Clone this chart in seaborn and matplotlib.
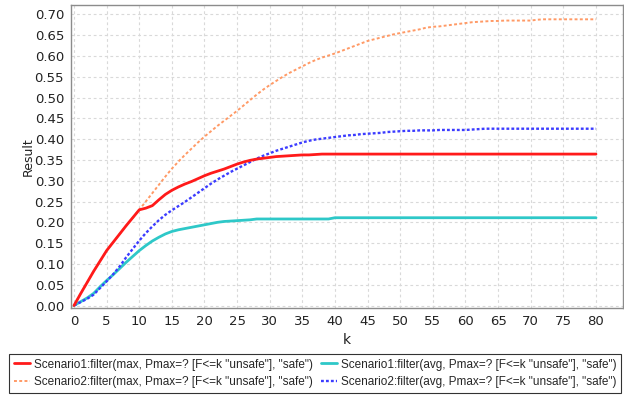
import matplotlib
matplotlib.use("Agg")
import matplotlib.pyplot as plt
import numpy as np
import pandas as pd
import seaborn as sns

# k = 0..80
k_values = list(range(81))

s1_max = [
    0.000, 0.028, 0.055, 0.082, 0.107, 0.132, 0.152, 0.172, 0.192, 0.211, 0.230,
    0.234, 0.240, 0.254, 0.267, 0.277, 0.285, 0.292, 0.298, 0.305, 0.312,
    0.318, 0.323, 0.328, 0.334, 0.340, 0.345, 0.349, 0.352, 0.354, 0.356,
    0.358, 0.359, 0.360, 0.361, 0.362, 0.362, 0.363, 0.364, 0.364, 0.364,
    0.364, 0.364, 0.364, 0.364, 0.364, 0.364, 0.364, 0.364, 0.364, 0.364,
    0.364, 0.364, 0.364, 0.364, 0.364, 0.364, 0.364, 0.364, 0.364, 0.364,
    0.364, 0.364, 0.364, 0.364, 0.364, 0.364, 0.364, 0.364, 0.364, 0.364,
    0.364, 0.364, 0.364, 0.364, 0.364, 0.364, 0.364, 0.364, 0.364, 0.364,
]

s1_avg = [
    0.000, 0.009, 0.018, 0.029, 0.045, 0.060, 0.074, 0.089, 0.104, 0.118, 0.132,
    0.144, 0.155, 0.164, 0.172, 0.178, 0.182, 0.185, 0.188, 0.191, 0.194,
    0.197, 0.200, 0.202, 0.203, 0.204, 0.205, 0.206, 0.208, 0.208, 0.208,
    0.208, 0.208, 0.208, 0.208, 0.208, 0.208, 0.208, 0.208, 0.208, 0.211,
    0.211, 0.211, 0.211, 0.211, 0.211, 0.211, 0.211, 0.211, 0.211, 0.211,
    0.211, 0.211, 0.211, 0.211, 0.211, 0.211, 0.211, 0.211, 0.211, 0.211,
    0.211, 0.211, 0.211, 0.211, 0.211, 0.211, 0.211, 0.211, 0.211, 0.211,
    0.211, 0.211, 0.211, 0.211, 0.211, 0.211, 0.211, 0.211, 0.211, 0.211,
]

s2_max = [
    0.000, 0.028, 0.055, 0.082, 0.107, 0.132, 0.152, 0.172, 0.192, 0.211, 0.230,
    0.250, 0.270, 0.290, 0.310, 0.329, 0.346, 0.362, 0.377, 0.392, 0.406,
    0.419, 0.432, 0.444, 0.456, 0.468, 0.481, 0.494, 0.507, 0.519, 0.530,
    0.540, 0.550, 0.559, 0.567, 0.575, 0.583, 0.590, 0.596, 0.601, 0.606,
    0.612, 0.618, 0.624, 0.630, 0.636, 0.640, 0.644, 0.648, 0.652, 0.655,
    0.658, 0.661, 0.664, 0.668, 0.670, 0.671, 0.673, 0.675, 0.677, 0.679,
    0.681, 0.682, 0.683, 0.684, 0.684, 0.685, 0.685, 0.685, 0.685, 0.685,
    0.687, 0.688, 0.688, 0.688, 0.688, 0.688, 0.688, 0.688, 0.688, 0.688,
]

s2_avg = [
    0.000, 0.008, 0.016, 0.026, 0.042, 0.058, 0.075, 0.094, 0.116, 0.136, 0.156,
    0.174, 0.190, 0.205, 0.218, 0.229, 0.239, 0.249, 0.260, 0.271, 0.282,
    0.293, 0.303, 0.312, 0.321, 0.329, 0.337, 0.345, 0.353, 0.360, 0.366,
    0.372, 0.377, 0.382, 0.387, 0.392, 0.396, 0.399, 0.401, 0.403, 0.405,
    0.407, 0.409, 0.410, 0.412, 0.413, 0.414, 0.415, 0.417, 0.418, 0.419,
    0.420, 0.420, 0.421, 0.421, 0.421, 0.422, 0.422, 0.422, 0.422, 0.422,
    0.423, 0.424, 0.425, 0.425, 0.425, 0.425, 0.425, 0.425, 0.425, 0.425,
    0.425, 0.425, 0.425, 0.425, 0.425, 0.425, 0.425, 0.425, 0.425, 0.425,
]

label_s1_max = 'Scenario1:filter(max, Pmax=? [F<=k "unsafe"], "safe")'
label_s1_avg = 'Scenario1:filter(avg, Pmax=? [F<=k "unsafe"], "safe")'
label_s2_max = 'Scenario2:filter(max, Pmax=? [F<=k "unsafe"], "safe")'
label_s2_avg = 'Scenario2:filter(avg, Pmax=? [F<=k "unsafe"], "safe")'

sns.set_style("white")
plt.rcParams['font.family'] = ['DejaVu Sans']

fig = plt.figure(figsize=(6.24, 3.95), dpi=100)
ax = fig.add_axes([71 / 624, 1 - 308 / 395, 552 / 624, 303 / 395])

# drawing order: avg lines below, max lines on top (red hides orange up to k=10)
series = [
    ("s1_avg", s1_avg, '#2ec8c8', 2.0, None, 3),
    ("s2_avg", s2_avg, '#3c3cff', 1.7, (1.2, 0.9), 4),
    ("s2_max", s2_max, '#ff9a66', 1.4, (1.5, 1.2), 5),
    ("s1_max", s1_max, '#ff1a1a', 2.0, None, 6),
]
lines = {}
for name, vals, color, lw, dashes, z in series:
    df = pd.DataFrame({"k": k_values, "Result": vals})
    sns.lineplot(data=df, x="k", y="Result", ax=ax, color=color, linewidth=lw, zorder=z)
    line = ax.lines[-1]
    if dashes is not None:
        line.set_dashes(dashes)
    lines[name] = line

ax.set_xlim(-0.46, 84.14)
ax.set_ylim(-0.006, 0.7224)
ax.set_xticks(np.arange(0, 81, 5))
yt = np.arange(0, 0.701, 0.05)
ax.set_yticks(yt)
ax.set_yticklabels([f"{v:.2f}" for v in yt])

ax.grid(True, color='#d9d9d9', linestyle=(0, (2.5, 2.5)), linewidth=0.8)
ax.set_axisbelow(True)
for sp in ax.spines.values():
    sp.set_color('#8c8c8c')
    sp.set_linewidth(1.0)

ax.tick_params(axis='both', direction='out', length=3, width=0.8, color='#8c8c8c',
               labelsize=9.5, labelcolor='#222222', pad=2)
ax.set_xlabel("k", fontsize=10, color='#222222', labelpad=4)
ax.set_ylabel("Result", fontsize=9, color='#222222', labelpad=0)

# ncol=2 fills column-wise: column 1 = max series, column 2 = avg series
handles = [lines["s1_max"], lines["s2_max"], lines["s1_avg"], lines["s2_avg"]]
labels = [label_s1_max, label_s2_max, label_s1_avg, label_s2_avg]
leg = fig.legend(handles, labels, loc='lower center', bbox_to_anchor=(0.505, 0.006),
                 ncol=2, frameon=True, fancybox=False, edgecolor='black',
                 prop={'family': 'Liberation Sans', 'size': 8.5},
                 handlelength=1.35, handletextpad=0.35, columnspacing=0.7,
                 borderpad=0.4, labelspacing=0.45, borderaxespad=0)
leg.get_frame().set_linewidth(0.8)

fig.savefig("out.png", dpi=100)
